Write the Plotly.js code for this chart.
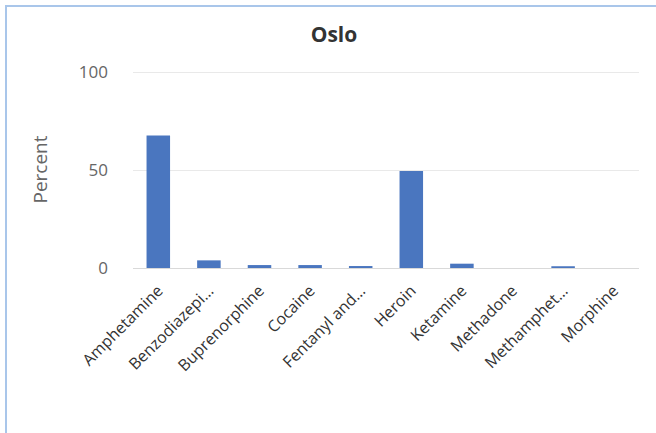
<!DOCTYPE html>
<html>
<head>
<meta charset="utf-8">
<script src="https://cdn.plot.ly/plotly-3.0.1.min.js"></script>
<style>
  html, body { margin: 0; padding: 0; background: #fff; }
  #wrap { position: relative; width: 656px; height: 433px; overflow: hidden; }
  #frame { position: absolute; left: 5px; top: 5px; width: 700px; height: 500px;
           border-left: 2px solid #a9c6ea; border-top: 2px solid #a9c6ea; pointer-events: none; z-index: 5; }
  #chart { position: absolute; left: 0; top: 0; width: 656px; height: 433px; }
</style>
</head>
<body>
<div id="wrap">
  <div id="chart"></div>
  <div id="frame"></div>
</div>
<script>
const categories = ["Amphetamine", "Benzodiazepi…", "Buprenorphine", "Cocaine", "Fentanyl and…",
                    "Heroin", "Ketamine", "Methadone", "Methamphet…", "Morphine"];
const percentValues = [67.7, 3.9, 1.5, 1.5, 1.0, 49.5, 2.2, 0, 0.9, 0];
const yTickValues = [0, 50, 100];
const yTickLabels = ["0", "50", "100"];

const trace = {
  type: "bar",
  x: categories,
  y: percentValues,
  marker: { color: "#4a76bf" },
  hoverinfo: "x+y"
};

const layout = {
  width: 656,
  height: 433,
  margin: { l: 133, r: 17, t: 71, b: 165 },
  paper_bgcolor: "#ffffff",
  plot_bgcolor: "#ffffff",
  font: { family: "Open Sans, sans-serif", color: "#595959" },
  title: {
    text: "<b>Oslo</b>",
    font: { size: 21, color: "#333333", family: "Open Sans, sans-serif" },
    xref: "container", yref: "container",
    x: 334 / 656, xanchor: "center",
    y: 1 - 35 / 433, yanchor: "middle"
  },
  bargap: 0.535,
  showlegend: false,
  xaxis: {
    type: "category",
    tickangle: -45,
    tickfont: { size: 16, color: "#333333" },
    showgrid: false,
    showline: true,
    linecolor: "#d9d9d9",
    linewidth: 1,
    ticks: "",
    ticklabelshift: 0,
    ticklabelstandoff: 6,
    zeroline: false,
    fixedrange: true
  },
  yaxis: {
    range: [0, 100.6],
    tickvals: yTickValues,
    ticktext: yTickLabels,
    tickfont: { size: 17, color: "#666666" },
    showgrid: true,
    gridcolor: "#e9e9e9",
    gridwidth: 1,
    zeroline: false,
    showline: false,
    ticks: "",
    ticklabelstandoff: 24,
    title: { text: "Percent", font: { size: 19, color: "#666666" }, standoff: 26 },
    fixedrange: true
  }
};

Plotly.newPlot("chart", [trace], layout, { displayModeBar: false, staticPlot: true });
</script>
</body>
</html>
